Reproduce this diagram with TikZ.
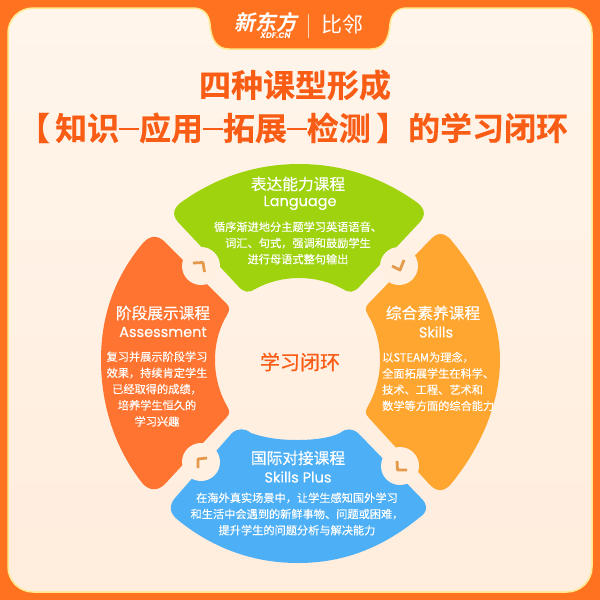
\documentclass[tikz,border=0pt]{standalone}
\usepackage{fontspec}
\setmainfont{Noto Sans CJK SC}
\newfontfamily\cjk{Noto Sans CJK SC}[BoldFont={* Bold}]
\newfontfamily\latinf{Poppins}
\definecolor{frameor}{HTML}{FF7320}
\definecolor{edgey}{HTML}{FFE88C}
\definecolor{creamtop}{HTML}{FFF5EB}
\definecolor{creambot}{HTML}{FFEDDD}
\definecolor{creamc}{HTML}{FFF0E2}
\definecolor{greenc}{HTML}{9ED30E}
\definecolor{leftc}{HTML}{FF7430}
\definecolor{rightc}{HTML}{FFA630}
\definecolor{bluec}{HTML}{4DAFF6}
\definecolor{chev}{HTML}{E39A4A}
\definecolor{titlec}{HTML}{F95C14}
\tikzset{
  head/.style={text=white,font=\cjk\addfontfeature{FakeBold=0.4}\fontsize{15.7}{18}\selectfont,inner sep=0pt},
  eng/.style={text=white,font=\latinf\addfontfeature{FakeBold=0.3}\fontsize{14.5}{18}\selectfont,inner sep=0pt},
  body/.style={text=white,font=\cjk\addfontfeature{FakeBold=0.25}\fontsize{11.2}{16.2}\selectfont,inner sep=0pt,align=center},
  title/.style={text=titlec,font=\cjk\bfseries\addfontfeature{FakeBold=0.3}\fontsize{32}{36}\selectfont,inner sep=0pt},
  hole/.style={circle,fill=creamc,minimum size=38pt,inner sep=0pt},
  chevron/.style={draw=chev,line width=2.8pt,line join=round},
}
\newcommand{\titledash}{\raisebox{0.32em}{\rule{0.62em}{0.07em}}}
\begin{document}
\begin{tikzpicture}[x=1pt,y=-1pt]
\useasboundingbox (0,0) rectangle (600,600);
\fill[frameor] (0,0) rectangle (600,600);
\path[draw=edgey,line width=1.5pt,top color=creamtop,bottom color=creambot]
  (33,8) -- (193,8) .. controls (203,8) and (209,14) .. (210,24) .. controls (211,40) and (217,49) .. (229,49)
  -- (371,49) .. controls (383,49) and (389,40) .. (390,24) .. controls (391,14) and (397,8) .. (407,8)
  -- (567,8) arc[start angle=-90,end angle=0,radius=25,y radius=25]
  -- (592,567) arc[start angle=0,end angle=90,radius=25]
  -- (33,592) arc[start angle=90,end angle=180,radius=25]
  -- (8,33) arc[start angle=180,end angle=270,radius=25] -- cycle;
\node[text=white,font=\cjk\bfseries\fontsize{21}{24}\selectfont\addfontfeature{FakeSlant=0.2},inner sep=0pt] (logoa) at (266,22) {新东方};
\node[text=white,font=\latinf\bfseries\fontsize{8}{9}\selectfont\addfontfeature{FakeSlant=0.2},inner sep=0pt] (logob) at (275,36) {XDF.CN};
\node[text=white,font=\cjk\fontsize{21}{24}\selectfont,inner sep=0pt] (logoc) at (342,24) {比邻};
\coordinate (divt) at (308,14);
\coordinate (divb) at (308,38);
\draw[white!70!frameor,line width=0.8pt] (divt) -- (divb);
\node[title] (t1) at (295,85) {四种课型形成};
\node[title] (t2) at (293,128) {【\,知识\titledash 应用\titledash 拓展\titledash 检测\,】的学习闭环};
\fill[greenc] (183,201) .. controls (220,175) and (260,164) .. (299,164) .. controls (338,164) and (378,175) .. (415,201)
  .. controls (424,207) and (427,214) .. (420,222) -- (360,286) .. controls (354,293) and (349,293) .. (343,289)
  .. controls (330,282) and (315,278) .. (299,278) .. controls (283,278) and (268,282) .. (255,289)
  .. controls (249,293) and (244,293) .. (238,286) -- (178,222) .. controls (171,214) and (174,207) .. (183,201) -- cycle;
\fill[leftc] (143,243) .. controls (150,235) and (158,235) .. (165,242) -- (226,303) .. controls (230,307) and (230,310) .. (227,315)
  .. controls (219,328) and (215,344) .. (215,360) .. controls (215,376) and (219,392) .. (227,406)
  .. controls (230,411) and (230,414) .. (226,418) -- (165,484) .. controls (158,491) and (150,491) .. (143,484)
  .. controls (112,445) and (101,400) .. (101,360) .. controls (101,320) and (112,280) .. (143,243) -- cycle;
\fill[rightc] (430,240) .. controls (437,232) and (444,232) .. (451,240) .. controls (483,278) and (500,320) .. (500,360)
  .. controls (500,400) and (483,445) .. (451,484) .. controls (444,492) and (437,492) .. (430,485)
  -- (369,418) .. controls (365,414) and (365,411) .. (368,406) .. controls (376,392) and (380,376) .. (380,360)
  .. controls (380,344) and (376,328) .. (368,315) .. controls (365,310) and (365,307) .. (369,303) -- cycle;
\fill[bluec] (232,433) .. controls (238,428) and (245,428) .. (251,433) .. controls (265,438) and (280,440) .. (297,440)
  .. controls (314,440) and (330,438) .. (340,433) .. controls (346,428) and (353,428) .. (359,434)
  -- (420,497) .. controls (428,504) and (428,512) .. (420,517) .. controls (380,550) and (340,563) .. (298,563)
  .. controls (256,563) and (215,550) .. (178,520) .. controls (169,513) and (169,505) .. (175,498) -- cycle;
\node[hole] (c1) at (201,266) {};
\node[hole] (c2) at (399,266) {};
\node[hole] (c3) at (201,462) {};
\node[hole] (c4) at (400,466) {};
\coordinate (a1) at (193,263); \coordinate (a2) at (203,262.5); \coordinate (a3) at (204.5,272);
\coordinate (b1) at (392,266); \coordinate (b2) at (400,270); \coordinate (b3) at (404,260);
\coordinate (d1) at (397,461); \coordinate (d2) at (397.5,470); \coordinate (d3) at (407,470);
\coordinate (e1) at (207,458); \coordinate (e2) at (198,459); \coordinate (e3) at (198,468);
\draw[chevron] (a1) -- (a2) -- (a3);
\draw[chevron] (b1) -- (b2) -- (b3);
\draw[chevron] (d1) -- (d2) -- (d3);
\draw[chevron] (e1) -- (e2) -- (e3);
\node[head] (gh) at (298,184) {表达能力课程};
\node[eng] (ge) at (300,203) {Language};
\node[body] (gb) at (298,243) {循序渐进地分主题学习英语语音、\\词汇、句式，强调和鼓励学生\\进行母语式整句输出};
\node[head] (lh) at (163,313) {阶段展示课程};
\node[eng] (le) at (163,332) {Assessment};
\node[body] (lb) at (157,389) {复习并展示阶段学习\\效果，持续肯定学生\\已经取得的成绩，\\培养学生恒久的\\学习兴趣};
\node[head] (rh) at (433,313) {综合素养课程};
\node[eng] (re) at (436,332) {Skills};
\node[body,align=left,anchor=west] (rb) at (382,381.5) {以STEAM为理念，\\全面拓展学生在科学、\\技术、工程、艺术和\\数学等方面的综合能力};
\node[head] (bh) at (298,458) {国际对接课程};
\node[eng] (be) at (298,477) {Skills Plus};
\node[body] (bb) at (297,514) {在海外真实场景中，让学生感知国外学习\\和生活中会遇到的新鲜事物、问题或困难，\\提升学生的问题分析与解决能力};
\node[text=titlec,font=\cjk\addfontfeature{FakeBold=0.5}\fontsize{20}{22}\selectfont,inner sep=0pt] (mid) at (300,362) {学习闭环};
\end{tikzpicture}
\end{document}
